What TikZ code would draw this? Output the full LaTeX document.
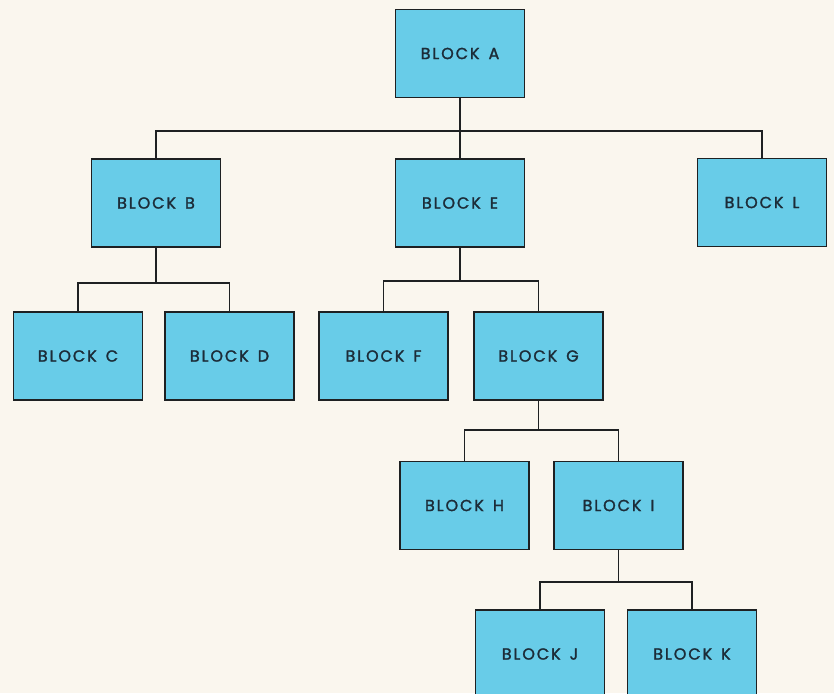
\documentclass[tikz,border=0pt]{standalone}
\usepackage{fontspec}
\usepackage{tikz}
\usetikzlibrary{positioning, calc}
\usepackage{xcolor}
\newfontfamily\blockfont[LetterSpace=12, FakeBold=1.6]{Poppins}
\definecolor{paper}{RGB}{250,246,238}
\definecolor{boxcyan}{RGB}{104,204,232}
\definecolor{inkline}{RGB}{30,32,34}
\definecolor{inktext}{RGB}{28,44,56}

\begin{document}
\begin{tikzpicture}[x=1pt, y=-1pt,
  blockbox/.style={draw=inkline, fill=boxcyan, line width=1.7pt, minimum width=129pt,
    minimum height=88pt, inner sep=0pt, text=inktext, font=\blockfont\fontsize{16}{18}\selectfont},
  wire/.style={draw=inkline, line width=1.5pt}]
  \fill[paper] (0,0) rectangle (834,693);
  \useasboundingbox (0,0) rectangle (834,693);
  % level 0 and 1
  \node[blockbox] (A) at (460,53.5) {BLOCK\hspace{9pt}A};
  \node[blockbox] (B) at (156,203) {BLOCK\hspace{9pt}B};
  \node[blockbox] (E) at (460,203) {BLOCK\hspace{9pt}E};
  \node[blockbox] (L) at (762,202.5) {BLOCK\hspace{9pt}L};
  % level 2
  \node[blockbox] (C) at (78,356) {BLOCK\hspace{9pt}C};
  \node[blockbox] (D) at (229.5,356) {BLOCK\hspace{9pt}D};
  \node[blockbox] (F) at (383.5,356) {BLOCK\hspace{9pt}F};
  \node[blockbox] (G) at (538.5,356) {BLOCK\hspace{9pt}G};
  % level 3 and 4
  \node[blockbox] (H) at (464.5,505.5) {BLOCK\hspace{9pt}H};
  \node[blockbox] (I) at (618.5,505.5) {BLOCK\hspace{9pt}I};
  \node[blockbox] (J) at (540,654) {BLOCK\hspace{9pt}J};
  \node[blockbox] (K) at (692,654) {BLOCK\hspace{9pt}K};
  % bus lines
  \coordinate (busA) at (A.south |- 0,131);
  \coordinate (busB) at (B.south |- 0,283);
  \coordinate (busE) at (E.south |- 0,281);
  \coordinate (busG) at (G.south |- 0,430);
  \coordinate (busI) at (I.south |- 0,582);
  \draw[wire] (A.south) -- (E.north);
  \draw[wire] (B.north) |- (busA) -| (L.north);
  \draw[wire] (B.south) -- (busB); \draw[wire] (C.north) |- (busB) -| (D.north);
  \draw[wire] (E.south) -- (busE); \draw[wire] (F.north) |- (busE) -| (G.north);
  \draw[wire] (G.south) -- (busG); \draw[wire] (H.north) |- (busG) -| (I.north);
  \draw[wire] (I.south) -- (busI); \draw[wire] (J.north) |- (busI) -| (K.north);
\end{tikzpicture}
\end{document}
